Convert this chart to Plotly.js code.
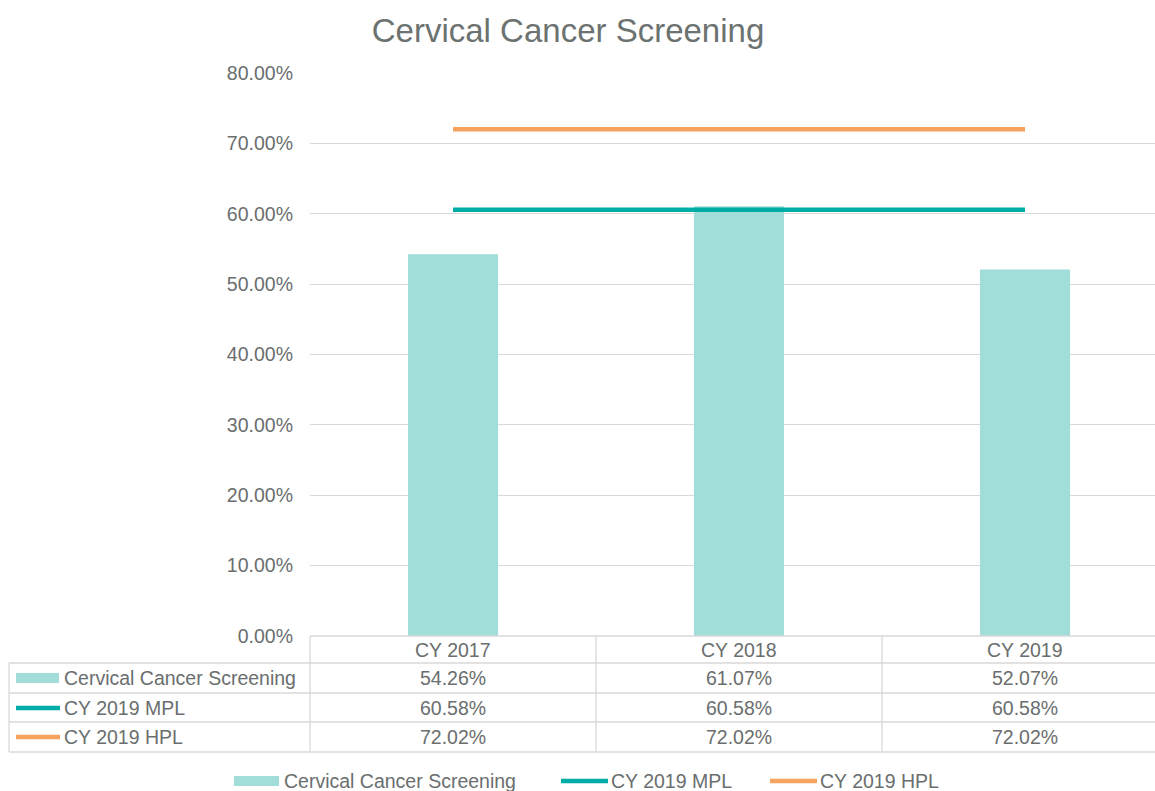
<!DOCTYPE html>
<html>
<head>
<meta charset="utf-8">
<script src="https://cdn.plot.ly/plotly-3.0.1.min.js"></script>
<style>html,body{margin:0;padding:0;background:#fff;}#chart{width:1155px;height:791px;}</style>
</head>
<body>
<div id="chart"></div>
<script>
// ---- data ----
var categories = ['CY 2017', 'CY 2018', 'CY 2019'];
var screening = [0.5426, 0.6107, 0.5207];
var mpl = [0.6058, 0.6058, 0.6058];
var hpl = [0.7202, 0.7202, 0.7202];
var seriesNames = ['Cervical Cancer Screening', 'CY 2019 MPL', 'CY 2019 HPL'];
var chartTitle = 'Cervical Cancer Screening';

// ---- styling ----
var W = 1155, H = 791;
var L = 310, R = 0, T = 73, B = 155;
var plotW = W - L - R, plotH = H - T - B;
var colW = 286;
var barColor = '#A2DED9', mplColor = '#00ADA6', hplColor = '#F6A35F';
var txtColor = '#6a6e6e', gridColor = '#d9d9d9';
var fontFam = 'Liberation Sans, Arial, sans-serif';
var fs = 19.5;

function px2x(px) { return (px - L) / plotW; }
function py2y(py) { return (H - B - py) / plotH; }

var traces = [
  {type: 'bar', x: categories, y: screening, name: seriesNames[0], width: 0.315,
   marker: {color: barColor}},
  {type: 'scatter', mode: 'lines', x: categories, y: mpl, name: seriesNames[1],
   line: {color: mplColor, width: 4.5}},
  {type: 'scatter', mode: 'lines', x: categories, y: hpl, name: seriesNames[2],
   line: {color: hplColor, width: 4.5}}
];

var shapes = [], annotations = [];
var tableTop = 636, rowLines = [663, 693, 722, 752];
var gline = {color: gridColor, width: 1.3};

// table top line (category header)
shapes.push({type: 'line', xref: 'paper', yref: 'paper', x0: px2x(310), x1: 1, y0: py2y(tableTop), y1: py2y(tableTop), line: gline});
rowLines.forEach(function (py) {
  shapes.push({type: 'line', xref: 'paper', yref: 'paper', x0: px2x(9), x1: 1, y0: py2y(py), y1: py2y(py), line: gline});
});
// verticals
shapes.push({type: 'line', xref: 'paper', yref: 'paper', x0: px2x(9), x1: px2x(9), y0: py2y(663), y1: py2y(752), line: gline});
shapes.push({type: 'line', xref: 'paper', yref: 'paper', x0: 0, x1: 0, y0: py2y(tableTop), y1: py2y(752), line: gline});
for (var i = 0; i < categories.length - 1; i++) {
  shapes.push({type: 'line', xref: 'x', yref: 'paper', x0: i + 0.5, x1: i + 0.5, y0: py2y(tableTop), y1: py2y(752), line: gline});
}

function fmt(v) { return (v * 100).toFixed(2) + '%'; }
var rowCenters = [650, 678, 708, 737];
var series = [screening, mpl, hpl];
categories.forEach(function (c, i) {
  annotations.push({xref: 'x', yref: 'paper', x: i, y: py2y(rowCenters[0]), text: c, showarrow: false,
    xanchor: 'center', yanchor: 'middle', font: {size: fs, color: txtColor, family: fontFam}});
  series.forEach(function (s, k) {
    annotations.push({xref: 'x', yref: 'paper', x: i, y: py2y(rowCenters[k + 1]), text: fmt(s[i]), showarrow: false,
      xanchor: 'center', yanchor: 'middle', font: {size: fs, color: txtColor, family: fontFam}});
  });
});
// row labels + keys
seriesNames.forEach(function (n, k) {
  var cy = rowCenters[k + 1];
  annotations.push({xref: 'paper', yref: 'paper', x: px2x(62), y: py2y(cy), text: n, showarrow: false,
    xanchor: 'left', yanchor: 'middle', font: {size: fs, color: txtColor, family: fontFam}});
  if (k === 0) {
    shapes.push({type: 'rect', xref: 'paper', yref: 'paper', x0: px2x(16), x1: px2x(59), y0: py2y(cy - 5), y1: py2y(cy + 5),
      fillcolor: barColor, line: {width: 0}});
  } else {
    shapes.push({type: 'line', xref: 'paper', yref: 'paper', x0: px2x(16), x1: px2x(60), y0: py2y(cy), y1: py2y(cy),
      line: {color: k === 1 ? mplColor : hplColor, width: 4.5}});
  }
});
// bottom legend
var legY = 781;
var legItems = [{sx0: 234, sx1: 279, tx: 282}, {sx0: 561, sx1: 608, tx: 609}, {sx0: 770, sx1: 817, tx: 818}];
legItems.forEach(function (it, k) {
  if (k === 0) {
    shapes.push({type: 'rect', xref: 'paper', yref: 'paper', x0: px2x(it.sx0), x1: px2x(it.sx1), y0: py2y(legY - 5), y1: py2y(legY + 5),
      fillcolor: barColor, line: {width: 0}});
  } else {
    shapes.push({type: 'line', xref: 'paper', yref: 'paper', x0: px2x(it.sx0), x1: px2x(it.sx1), y0: py2y(legY), y1: py2y(legY),
      line: {color: k === 1 ? mplColor : hplColor, width: 4.5}});
  }
  annotations.push({xref: 'paper', yref: 'paper', x: px2x(it.tx), y: py2y(legY), text: seriesNames[k], showarrow: false,
    xanchor: 'left', yanchor: 'middle', font: {size: fs, color: txtColor, family: fontFam}});
});

var layout = {
  width: W, height: H,
  margin: {l: L, r: R, t: T, b: B, pad: 0},
  paper_bgcolor: '#fff', plot_bgcolor: '#fff',
  showlegend: false,
  title: {text: chartTitle, xref: 'paper', x: px2x(568), xanchor: 'center', yref: 'container', y: 1 - 30 / H, yanchor: 'middle',
    font: {size: 33, color: '#6b7270', family: fontFam}},
  xaxis: {type: 'category', range: [-0.5, -0.5 + plotW / colW], showticklabels: false, showgrid: false,
    zeroline: false, showline: false, ticks: '', fixedrange: true},
  yaxis: {range: [0, 0.8], dtick: 0.1, tick0: 0, tickformat: '.2%', showgrid: true, gridcolor: gridColor, gridwidth: 1.2,
    zeroline: false, showline: false, ticks: '', ticklabelstandoff: 16,
    tickfont: {size: fs, color: txtColor, family: fontFam}, fixedrange: true},
  shapes: shapes,
  annotations: annotations,
  hovermode: false
};

Plotly.newPlot('chart', traces, layout, {displayModeBar: false, staticPlot: true});
</script>
</body>
</html>
